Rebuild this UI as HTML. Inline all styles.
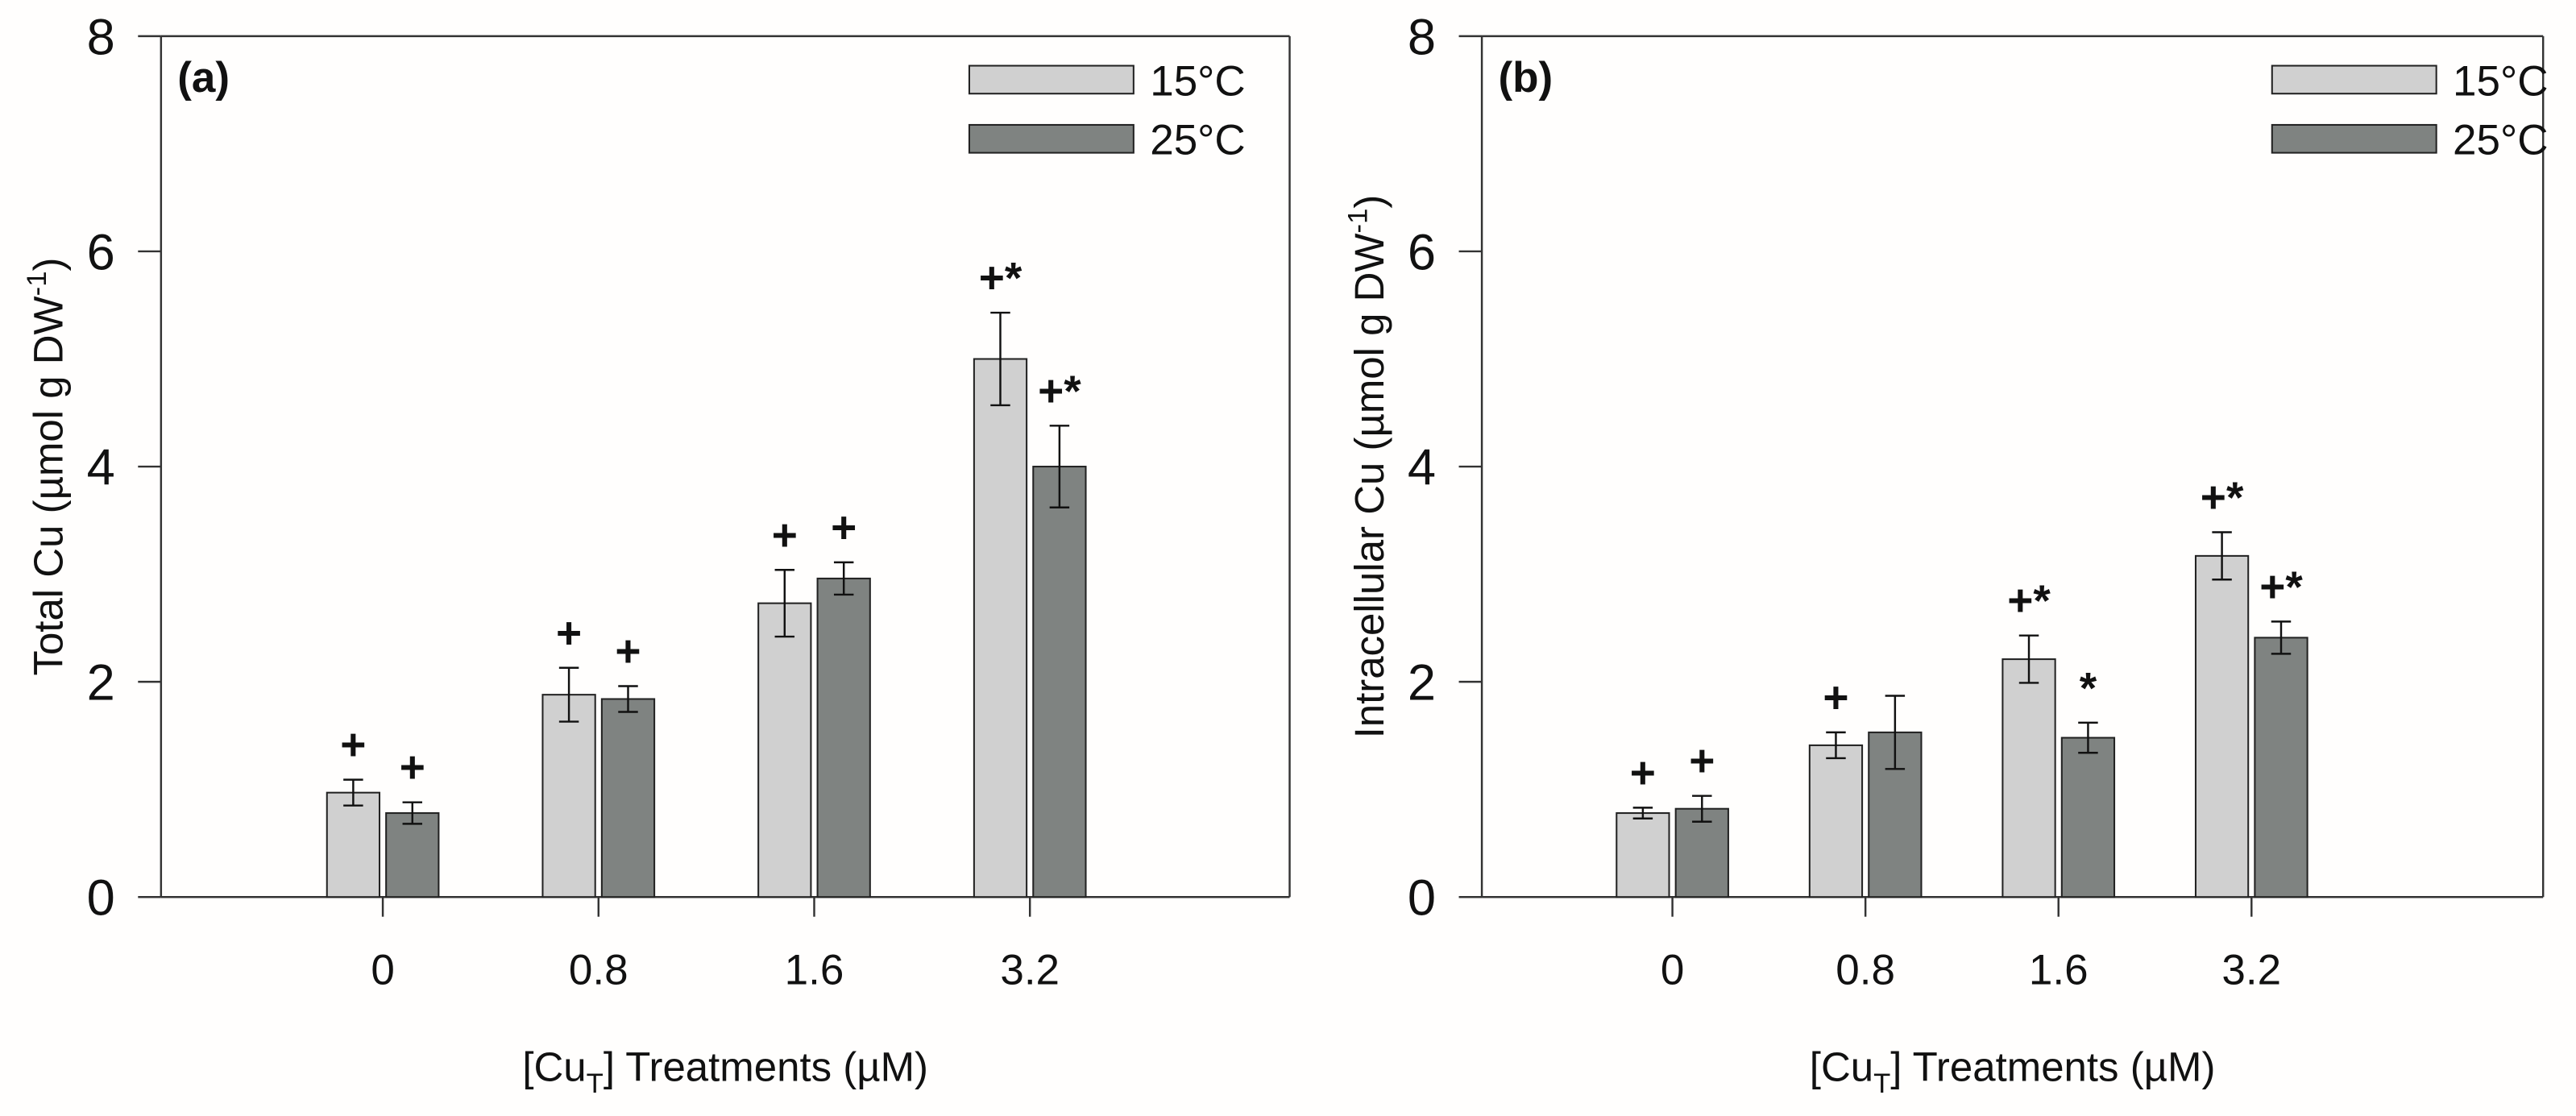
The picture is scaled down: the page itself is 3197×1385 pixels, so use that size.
<!DOCTYPE html>
<html><head><meta charset="utf-8"><style>
html,body{margin:0;padding:0;background:#fffefd;}
svg{display:block;font-family:"Liberation Sans",Arial,sans-serif;}
</style></head><body>
<svg id="chart" width="3197" height="1385" viewBox="0 0 1568 679.3" xmlns="http://www.w3.org/2000/svg">
<rect x="0" y="0" width="1568" height="679.3" fill="#fffefd"/>
<g id="pa"></g>
<g id="pb"></g>
</svg>
<script>
const categories = ["0","0.8","1.6","3.2"];
const yTicks = [0,2,4,6,8];
const seriesNames = ["15°C","25°C"];
const aT15 = [0.97,1.88,2.73,5.0];
const aT25 = [0.78,1.84,2.96,4.0];
const aE15 = [0.12,0.25,0.31,0.43];
const aE25 = [0.10,0.12,0.15,0.38];
const aN15 = ["+","+","+","+*"];
const aN25 = ["+","+","+","+*"];
const bT15 = [0.78,1.41,2.21,3.17];
const bT25 = [0.82,1.53,1.48,2.41];
const bE15 = [0.05,0.12,0.22,0.22];
const bE25 = [0.12,0.34,0.14,0.15];
const bN15 = ["+","+","+*","+*"];
const bN25 = ["+","","*","+*"];

const NS="http://www.w3.org/2000/svg";
function mk(parent,tag,attrs,text){const e=document.createElementNS(NS,tag);for(const k in attrs)e.setAttribute(k,attrs[k]);if(text!==undefined)e.textContent=text;parent.appendChild(e);return e;}

function panel(g,cfg){
  const {x0,x1,y0,y1,g0,gStep,bw,label,ytitle,s15,s25,e15,e25,n15,n25,legX}=cfg;
  const ys=v=>y1-(v/8)*(y1-y0);
  const xs=i=>g0+i*gStep;
  let e=mk(g,'line',{x1:x0,y1:y0,x2:x1,y2:y0,stroke:'#333','stroke-width':1.2});
  
  e=mk(g,'line',{x1:x0,y1:y1,x2:x1,y2:y1,stroke:'#333','stroke-width':1.2});
  
  e=mk(g,'line',{x1:x0,y1:y0,x2:x0,y2:y1,stroke:'#333','stroke-width':1.2});
  
  e=mk(g,'line',{x1:x1,y1:y0,x2:x1,y2:y1,stroke:'#333','stroke-width':1.2});
  
  yTicks.forEach(t=>{
    const y=ys(t);
    let l=mk(g,'line',{x1:x0-14,y1:y,x2:x0,y2:y,stroke:'#333','stroke-width':1.2});
    
    let tx=mk(g,'text',{x:x0-28,y:y+11,'font-size':31,'text-anchor':'end',fill:'#111'},String(t));
    
  });
  categories.forEach((c,i)=>{
    const cx=xs(i);
    let l=mk(g,'line',{x1:cx,y1:y1,x2:cx,y2:y1+12,stroke:'#333','stroke-width':1.2});
    
    let tx=mk(g,'text',{x:cx,y:y1+53,'font-size':26,'text-anchor':'middle',fill:'#111'},c);
    
    [[s15,e15,n15,'#d0d0d0',-1],[s25,e25,n25,'#7f8381',1]].forEach(([s,er,nt,col,side])=>{
      const v=s[i], bx=side<0?cx-2-bw:cx+2;
      let r=mk(g,'rect',{x:bx,y:ys(v),width:bw,height:y1-ys(v),fill:col,stroke:'#222','stroke-width':1});
      
      const mx=bx+bw/2, yt=ys(v+er[i]), yb=ys(v-er[i]);
      let eb=mk(g,'path',{d:`M${mx},${yt}V${yb}M${mx-6},${yt}H${mx+6}M${mx-6},${yb}H${mx+6}`,stroke:'#111','stroke-width':1.2,fill:'none'});
      
      if(nt[i]){
        let an=mk(g,'text',{x:mx,y:yt-12,'font-size':27,'font-weight':'bold','text-anchor':'middle',fill:'#111'},nt[i]);
        
      }
    });
  });
  let pl=mk(g,'text',{x:x0+10,y:y0+34,'font-size':26,'font-weight':'bold',fill:'#111'},label);
  
  const cx=(x0+x1)/2;
  let xt=mk(g,'text',{x:cx,y:y1+112,'font-size':25,'text-anchor':'middle',fill:'#111'});
  
  xt.innerHTML='[Cu<tspan font-size="17" dy="7">T</tspan><tspan dy="-7">] Treatments (µM)</tspan>';
  let yt=mk(g,'text',{transform:`translate(${x0-60},${(y0+y1)/2}) rotate(-90)`,'font-size':25,'text-anchor':'middle',fill:'#111'});
  
  yt.innerHTML=ytitle+' (µmol g DW<tspan font-size="17" dy="-10">-1</tspan><tspan dy="10">)</tspan>';
  [['#d0d0d0',49],['#7f8381',85]].forEach(([col,yy],k)=>{
    let lb=mk(g,'rect',{x:legX,y:yy-9,width:100,height:17,fill:col,stroke:'#222','stroke-width':1});
    
    let lt=mk(g,'text',{x:legX+110,y:yy+9,'font-size':26,fill:'#111'},seriesNames[k]);
    
  });
}
panel(document.getElementById('pa'),{x0:98,x1:785,y0:22,y1:546,g0:233,gStep:131.3,bw:32,label:'(a)',ytitle:'Total Cu',s15:aT15,s25:aT25,e15:aE15,e25:aE25,n15:aN15,n25:aN25,legX:590});
panel(document.getElementById('pb'),{x0:902,x1:1548,y0:22,y1:546,g0:1018,gStep:117.5,bw:32,label:'(b)',ytitle:'Intracellular Cu',s15:bT15,s25:bT25,e15:bE15,e25:bE25,n15:bN15,n25:bN25,legX:1383});
</script>
</body></html>
